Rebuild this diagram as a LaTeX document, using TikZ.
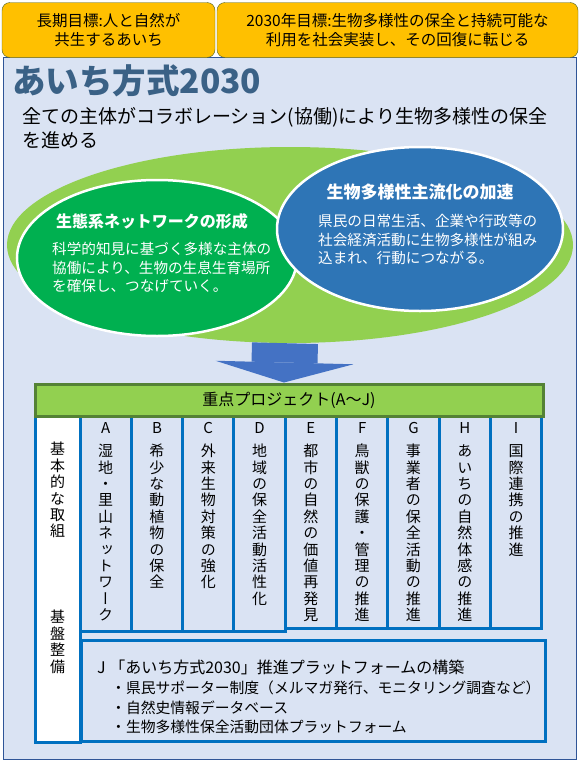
\documentclass[tikz,border=0pt]{standalone}
\usepackage{fontspec}
\setmainfont{Noto Sans CJK JP}
\newfontfamily\tatefont[RawFeature=+vert]{Noto Sans CJK JP}
\usetikzlibrary{shapes.geometric, arrows.meta, positioning}
\usepackage{xcolor}

\definecolor{goal}{HTML}{FFC000}
\definecolor{goalline}{HTML}{4F6228}
\definecolor{panel}{HTML}{DAE3F3}
\definecolor{panelline}{HTML}{2F5597}
\definecolor{ttl}{HTML}{3A6186}
\definecolor{lgreen}{HTML}{92D050}
\definecolor{dgreen}{HTML}{00B050}
\definecolor{mblue}{HTML}{2E75B6}
\definecolor{arrowblue}{HTML}{4472C4}
\definecolor{hdline}{HTML}{548235}
\definecolor{colline}{HTML}{0070C0}

% stack characters one below the other (vertical writing)
\def\tateA#1{\ifx\relax#1\else\hbox to 1em{\hss#1\hss}\expandafter\tateA\fi}
\newcommand\tate[1]{\vbox{\tatefont\baselineskip=16.4pt\lineskiplimit=-100pt\tateA#1\relax}}
\newcommand\koumoku[2]{\vbox{\baselineskip=16.4pt\lineskiplimit=-100pt
  \hbox to 1em{\hss#1\hss}\vskip7pt\tatefont\tateA#2\relax}}

\begin{document}
\begin{tikzpicture}[
  x=1pt, y=-1pt,
  goalbox/.style={rectangle, rounded corners=8pt, draw=goalline, fill=goal, minimum height=55pt, align=center, font=\fontsize{15.5}{19}\selectfont},
  bubble/.style={ellipse, draw=white, line width=2.5pt, inner sep=0pt},
  bubttl/.style={inner sep=0pt, text=white, font=\fontsize{16}{19}\selectfont\bfseries},
  bubtxt/.style={inner sep=0pt, text=white, align=left, anchor=north west, font=\fontsize{14.6}{18.7}\selectfont},
  colhi/.style={rectangle, draw=colline, line width=3pt, fill=panel, outer sep=0pt, minimum width=51.3pt, minimum height=215pt},
  collo/.style={colhi, minimum height=212pt},
  coltxt/.style={inner sep=0pt, font=\fontsize{15}{16.4}\selectfont},
  >=Latex
]
\useasboundingbox (0,0) rectangle (580,763);

\node[rectangle, draw=panelline, fill=panel, line width=1pt, minimum width=573pt, minimum height=702pt] (panel) at (289.5,408) {};

\node[goalbox, minimum width=213pt] (goalL) at (108.5,30) {長期目標:人と自然が\\共生するあいち};
\node[goalbox, minimum width=361pt] (goalR) at (397.5,30) {2030年目標:生物多様性の保全と持続可能な\\利用を社会実装し、その回復に転じる};

\node[anchor=west, inner sep=0pt, text=ttl, font=\fontsize{33.5}{34}\selectfont\bfseries] (title) at (12,81) {あいち方式2030};
\node[anchor=north west, inner sep=0pt, align=left, font=\fontsize{19}{24}\selectfont] (motto) at (22,107) {全ての主体がコラボレーション(協働)により生物多様性の保全\\を進める};

% ellipses
\node[ellipse, fill=lgreen, inner sep=0pt, minimum width=566pt, minimum height=196pt] (base) at (290,245) {};
\node[bubble, fill=dgreen, minimum width=280pt, minimum height=156pt] (network) at (157,258) {};
\node[bubble, fill=mblue, minimum width=286pt, minimum height=164pt] (flow) at (420,229) {};

\node[bubttl] (netttl) at (152,221) {生態系ネットワークの形成};
\node[bubtxt] (nettxt) at (52,242) {科学的知見に基づく多様な主体の\\協働により、生物の生息生育場所\\を確保し、つなげていく。};
\node[bubttl, font=\fontsize{17}{19}\selectfont\bfseries] (flowttl) at (420,192) {生物多様性主流化の加速};
\node[bubtxt] (flowtxt) at (318,214) {県民の日常生活、企業や行政等の\\社会経済活動に生物多様性が組み\\込まれ、行動につながる。};

% projects
\node[rectangle, draw=colline, line width=3pt, fill=white, outer sep=0pt, minimum width=45pt, minimum height=326pt, anchor=north west] (basic) at (35,416) {};
\node[colhi, anchor=north west] (colA) at (80,416) {};
\node[colhi, right=0pt of colA] (colB) {};
\node[colhi, right=0pt of colB] (colC) {};
\node[colhi, right=0pt of colC] (colD) {};
\node[collo, anchor=north west] (colE) at (colD.north east) {};
\node[collo, right=0pt of colE] (colF) {};
\node[collo, right=0pt of colF] (colG) {};
\node[collo, right=0pt of colG] (colH) {};
\node[collo, right=0pt of colH] (colI) {};

\node[coltxt, below=26pt of basic.north] (basic1) {\tate{基本的な取組}};
\node[coltxt, below=194pt of basic.north] (basic2) {\tate{基盤整備}};
\node[coltxt, below=6pt of colA.north] (txtA) {\koumoku{A}{湿地・里山ネットワーク}};
\node[coltxt, below=6pt of colB.north] (txtB) {\koumoku{B}{希少な動植物の保全}};
\node[coltxt, below=6pt of colC.north] (txtC) {\koumoku{C}{外来生物対策の強化}};
\node[coltxt, below=6pt of colD.north] (txtD) {\koumoku{D}{地域の保全活動活性化}};
\node[coltxt, below=6pt of colE.north] (txtE) {\koumoku{E}{都市の自然の価値再発見}};
\node[coltxt, below=6pt of colF.north] (txtF) {\koumoku{F}{鳥獣の保護・管理の推進}};
\node[coltxt, below=6pt of colG.north] (txtG) {\koumoku{G}{事業者の保全活動の推進}};
\node[coltxt, below=6pt of colH.north] (txtH) {\koumoku{H}{あいちの自然体感の推進}};
\node[coltxt, below=6pt of colI.north] (txtI) {\koumoku{I}{国際連携の推進}};

\node[rectangle, draw=hdline, fill=lgreen, line width=3pt, minimum width=508pt, minimum height=32pt, font=\fontsize{16}{16}\selectfont] (head) at (289,400) {重点プロジェクト(A～J)};

\draw[arrowblue, line width=66pt, -{Triangle[width=138pt, length=20pt, line width=0pt]}] ([xshift=-5pt]base.south) -- ([xshift=-5pt]head.north);

\node[rectangle, draw=colline, line width=3pt, fill=panel, minimum width=464pt, minimum height=101pt] (jbox) at (313,690.5) {};
\node[anchor=west, inner sep=0pt, font=\fontsize{16}{16}\selectfont] (jttl) at (97,667) {J 「あいち方式2030」推進プラットフォームの構築};
\node[anchor=west, inner sep=0pt, align=left, font=\fontsize{14.8}{19.5}\selectfont] (jlist) at (111,707.5) {・県民サポーター制度（メルマガ発行、モニタリング調査など）\\・自然史情報データベース\\・生物多様性保全活動団体プラットフォーム};

\end{tikzpicture}
\end{document}
